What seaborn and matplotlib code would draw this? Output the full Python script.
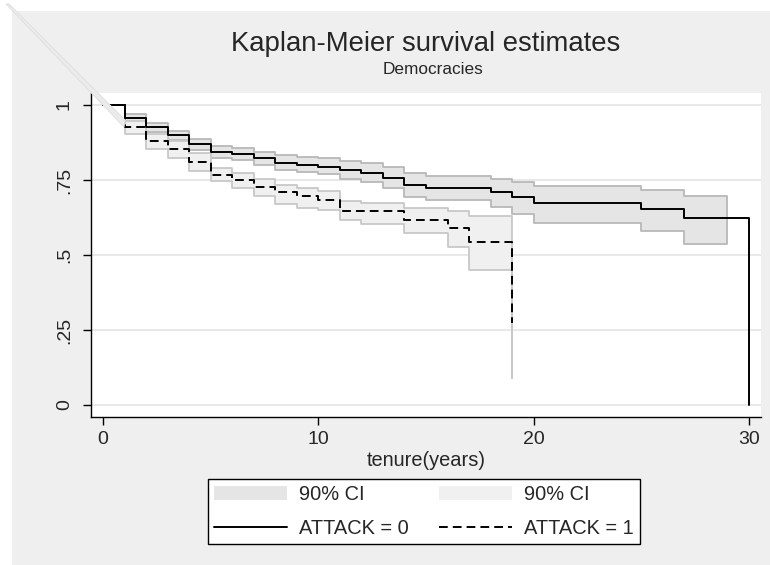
import numpy as np
import pandas as pd
import matplotlib
matplotlib.use("Agg")
import matplotlib.pyplot as plt
import seaborn as sns
from matplotlib.patches import Patch, Rectangle, Polygon
from matplotlib.lines import Line2D

# ---- data ----
t_attack0 = [0, 1, 2, 3, 4, 5, 6, 7, 8, 9, 10, 11, 12, 13, 14, 15, 18, 19, 20, 25, 27, 30]
s_attack0 = [1.0, 0.957, 0.926, 0.899, 0.869, 0.844, 0.837, 0.822, 0.808, 0.800, 0.795,
             0.784, 0.775, 0.756, 0.733, 0.724, 0.710, 0.692, 0.673, 0.652, 0.624, 0.0]

ci_t_attack0 = [0, 1, 2, 3, 4, 5, 6, 7, 8, 9, 10, 11, 12, 13, 14, 15, 18, 19, 20, 25, 27, 29]
ci_lo_attack0 = [1.0, 0.944, 0.910, 0.882, 0.850, 0.824, 0.817, 0.800, 0.784, 0.776, 0.769,
                 0.755, 0.744, 0.722, 0.693, 0.683, 0.659, 0.637, 0.607, 0.580, 0.538, 0.538]
ci_hi_attack0 = [1.0, 0.969, 0.940, 0.914, 0.887, 0.864, 0.858, 0.845, 0.832, 0.826, 0.822,
                 0.815, 0.808, 0.792, 0.772, 0.764, 0.754, 0.743, 0.731, 0.716, 0.697, 0.697]

t_attack1 = [0, 1, 2, 3, 4, 5, 6, 7, 8, 9, 10, 11, 12, 14, 16, 17, 19]
s_attack1 = [1.0, 0.928, 0.881, 0.852, 0.811, 0.767, 0.749, 0.726, 0.710, 0.697, 0.683,
             0.648, 0.646, 0.617, 0.589, 0.544, 0.274]
ci_lo_attack1 = [1.0, 0.905, 0.855, 0.823, 0.780, 0.746, 0.722, 0.697, 0.670, 0.657, 0.650,
                 0.617, 0.602, 0.572, 0.528, 0.450, 0.089]
ci_hi_attack1 = [1.0, 0.948, 0.905, 0.879, 0.840, 0.790, 0.773, 0.753, 0.735, 0.723, 0.712,
                 0.680, 0.672, 0.656, 0.647, 0.630, 0.560]

yticks = [0, 0.25, 0.5, 0.75, 1]
ytick_labels = ["0", ".25", ".5", ".75", "1"]
xticks = [0, 10, 20, 30]
xtick_labels = ["0", "10", "20", "30"]

title = "Kaplan-Meier survival estimates"
subtitle = "Democracies"
xlabel = "tenure(years)"
labels = ["90% CI", "ATTACK = 0", "90% CI", "ATTACK = 1"]

# ---- styling ----
sns.set_theme(style="white")
plt.rcParams["font.family"] = ["Liberation Sans", "DejaVu Sans"]

W, H = 770, 565
fig = plt.figure(figsize=(W / 100, H / 100), dpi=100)
fig.patch.set_facecolor("white")
BG = "#efefef"
fig.add_artist(Rectangle((12 / W, 0), 1 - 12 / W, 1 - 11 / H, transform=fig.transFigure,
                         facecolor=BG, edgecolor="none", zorder=-10))

ax = fig.add_axes([91 / W, 1 - 417 / H, (761 - 91) / W, (417 - 93) / H])
ax.set_facecolor("white")

df0 = pd.DataFrame({"t": t_attack0, "s": s_attack0, "g": "ATTACK = 0"})
df1 = pd.DataFrame({"t": t_attack1, "s": s_attack1, "g": "ATTACK = 1"})

# gridlines
for y in yticks:
    ax.axhline(y, color="#e6e6e6", lw=1.3, zorder=0)

# CI bands
ci0_fill, ci0_edge = "#e5e5e5", "#b8b8b8"
ci1_fill, ci1_edge = "#f0f0f0", "#c8c8c8"
ax.fill_between(ci_t_attack0, ci_lo_attack0, ci_hi_attack0, step="post",
                facecolor=ci0_fill, edgecolor=ci0_edge, linewidth=1.3, zorder=1)
ax.fill_between(t_attack1, ci_lo_attack1, ci_hi_attack1, step="post",
                facecolor=ci1_fill, edgecolor=ci1_edge, linewidth=1.3, zorder=2)

# survival curves
DASH = (4.5, 2.6)
sns.lineplot(data=df0, x="t", y="s", ax=ax, color="black", lw=1.4,
             drawstyle="steps-post", estimator=None, legend=False, zorder=4)
sns.lineplot(data=df1, x="t", y="s", ax=ax, color="black", lw=1.4,
             drawstyle="steps-post", estimator=None, legend=False, zorder=4)
ax.lines[-1].set_dashes(DASH)

ax.set_xlim(-0.56, 30.56)
ax.set_ylim(-0.04, 1.04)
ax.set_xticks(xticks)
ax.set_xticklabels(xtick_labels, fontsize=14)
ax.set_yticks(yticks)
ax.set_yticklabels(ytick_labels, fontsize=14, rotation=90, va="center")
ax.tick_params(axis="x", direction="out", length=6, width=1, color="black",
               bottom=True, pad=4)
ax.tick_params(axis="y", direction="out", length=6, width=1, color="black",
               left=True, pad=7)
ax.set_xlabel(xlabel, fontsize=14.4, labelpad=2)
ax.set_ylabel("")
for side in ["top", "right"]:
    ax.spines[side].set_visible(False)
for side in ["left", "bottom"]:
    ax.spines[side].set_visible(True)
    ax.spines[side].set_color("black")
    ax.spines[side].set_linewidth(1.0)

fig.text(426 / W, 1 - 44 / H, title, ha="center", va="center", fontsize=19.8)
fig.text(433 / W, 1 - 70 / H, subtitle, ha="center", va="center", fontsize=12.4)

# faint diagonal rendering artifact in the reference
fig.add_artist(Polygon([(6 / W, 1 - 4 / H), (9 / W, 1 - 4 / H), (125 / W, 1 - 120 / H),
                        (124 / W, 1 - 127 / H)], closed=True, transform=fig.transFigure,
                       facecolor="#ebebeb", edgecolor="#e0e0e0", lw=0.7, zorder=0.5))

handles = [Patch(facecolor=ci0_fill, edgecolor="none"),
           Line2D([], [], color="black", lw=1.4),
           Patch(facecolor=ci1_fill, edgecolor="none"),
           Line2D([], [], color="black", lw=1.4, dashes=DASH)]
leg = fig.legend(handles, labels, ncol=2, loc="upper left",
                 bbox_to_anchor=(208 / W, 1 - 479 / H),
                 fontsize=14.4, frameon=True, fancybox=False,
                 handlelength=3.65, handletextpad=0.6, borderpad=0.32,
                 labelspacing=0.72, columnspacing=1.5, borderaxespad=0)
leg.get_frame().set_edgecolor("black")
leg.get_frame().set_linewidth(1.0)
leg.get_frame().set_facecolor("white")
leg.get_frame().set_alpha(1)

fig.savefig("out.png", dpi=100, facecolor=fig.get_facecolor())
